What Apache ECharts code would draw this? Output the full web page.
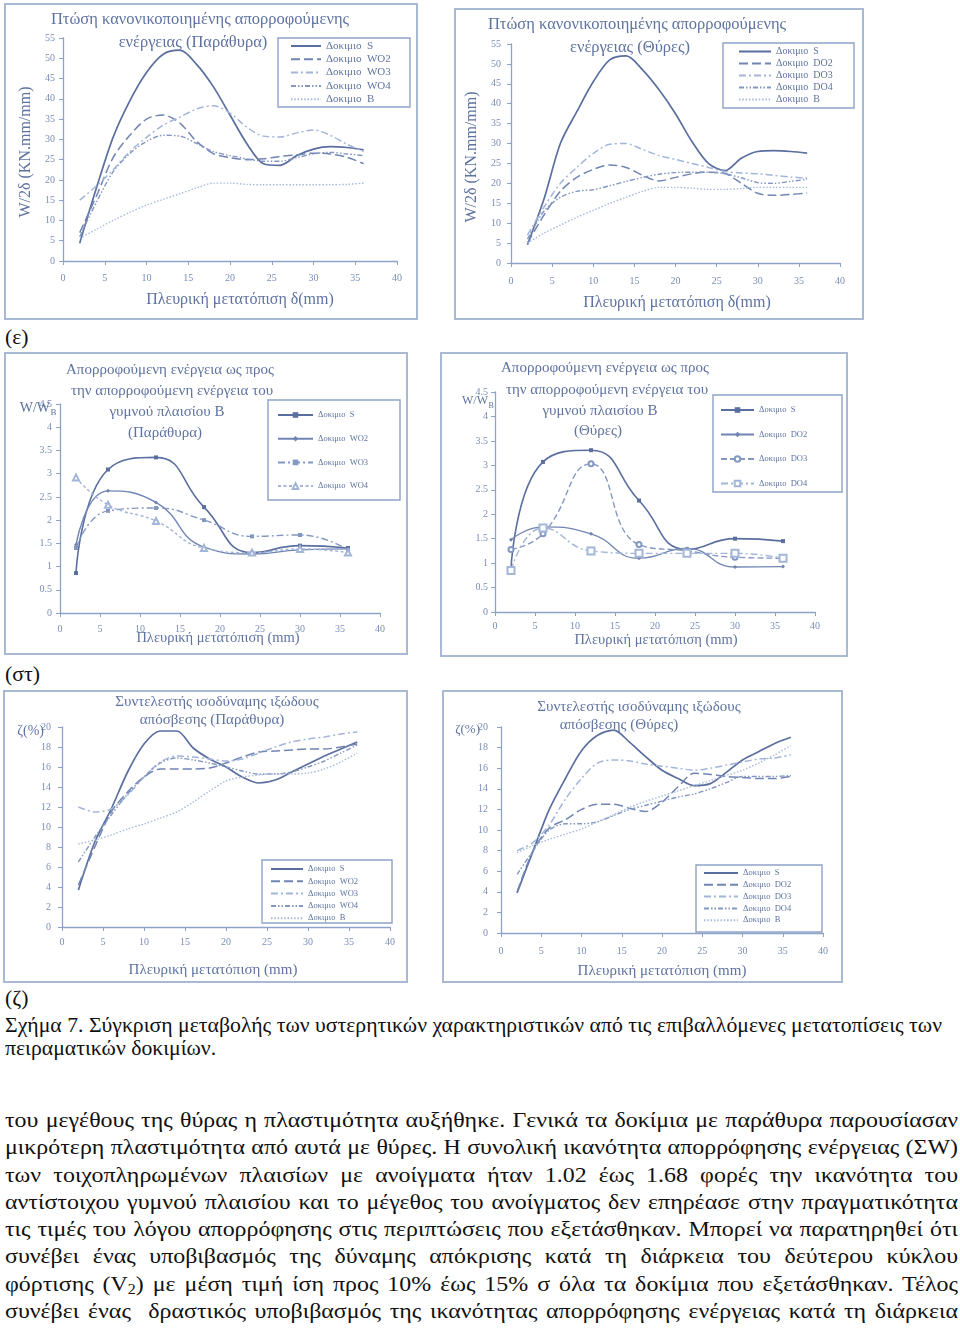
<!DOCTYPE html>
<html><head><meta charset="utf-8">
<script src="https://cdn.jsdelivr.net/npm/echarts@6.0.0/dist/echarts.min.js"></script>
<style>
html,body{margin:0;padding:0;background:#fff;}
body{width:960px;height:1335px;position:relative;overflow:hidden;font-family:'Liberation Serif','Times New Roman',serif;}
.panel{position:absolute;outline:2px solid #a9b8d3;outline-offset:-2px;}
.tl{position:absolute;left:5px;white-space:pre;font-size:21px;line-height:24px;color:#111;transform-origin:0 0;}
.tl sub{font-size:14px;line-height:0;vertical-align:-3px;}
</style></head><body>
<div id="c1" class="panel"></div>
<div id="c2" class="panel"></div>
<div id="c3" class="panel"></div>
<div id="c4" class="panel"></div>
<div id="c5" class="panel"></div>
<div id="c6" class="panel"></div>
<script>
// ---------- DATA ----------
const X_FULL = [2,4,6,8,10,12,14,16,18,20,22,24,26,28,30,32,34,36];
const X_PTS = [2,6,12,18,24,30,36];
const X_TICKS = [0,5,10,15,20,25,30,35,40];

// (ε) left: Παράθυρα, W/2δ
const c1_S   = [4.4,18,30.5,39.5,46.5,51,52,48.5,43,36,29,24,23.6,26,27.6,28.2,28,27.4];
const c1_WO2 = [7,16,25.5,31,35,36,34,29.5,26.5,25.5,25,25.2,25.8,26.2,26.6,26.4,25.6,24];
const c1_WO3 = [15,18.5,22.5,27,30.5,33.5,35.5,37.5,38.3,36.5,33,30.8,30.6,31.6,32.3,31,28.8,27];
const c1_WO4 = [6,14.5,22,26.5,29.5,31,30.8,29,27,26,25.2,24.6,24.6,25.5,26.4,26.8,26.4,26];
const c1_B   = [5.6,7.8,10,12,13.8,15.2,16.6,18,19.2,19.2,18.9,18.8,18.8,18.8,18.8,18.8,18.9,19.2];
// (ε) right: Θύρες
const c2_S   = [4.6,16,30,38,45.5,51,52,48.5,43.5,37.5,30.5,25,23.2,26.3,28,28.2,28,27.6];
const c2_DO2 = [5,12,18,21.5,23.5,24.6,24,22,20.6,21.5,22.4,22.8,22.5,20,17.5,17,17.2,17.6];
const c2_DO3 = [7,14,20,24,27.5,29.8,30,28.5,27,26,25,24,23,22.6,22.4,22,21.6,21.3];
const c2_DO4 = [6,13,16.5,18,18.4,19.4,20.5,21.5,22.3,22.7,22.8,22.8,22.4,21.4,20.2,20,20.5,21];
const c2_B   = [5,7.5,9.5,11.5,13.2,15,16.5,18,19,19,18.8,18.5,18.5,18.7,19,19,19,19];
// (στ) left: W/WB Παράθυρα
const c3_S   = [0.86,3.09,3.35,2.28,1.3,1.45,1.4];
const c3_WO2 = [1.47,2.63,2.38,1.42,1.27,1.36,1.38];
const c3_WO3 = [1.4,2.2,2.26,2.0,1.65,1.68,1.36];
const c3_WO4 = [2.92,2.33,1.98,1.4,1.3,1.38,1.3];
// (στ) right: W/WB Θύρες
const c4_S   = [0.88,3.07,3.31,2.28,1.28,1.5,1.45];
const c4_DO2 = [1.48,1.74,1.6,1.1,1.3,0.92,0.93];
const c4_DO3 = [1.28,1.6,3.03,1.38,1.25,1.12,1.1];
const c4_DO4 = [0.85,1.72,1.25,1.2,1.2,1.2,1.1];
// (ζ) left: ζ(%) Παράθυρα
const c5_S   = [3.7,8.5,11.8,15.5,18.3,19.6,19.6,17.9,16.8,16,15,14.4,14.7,15.5,16.3,17.1,17.8,18.5];
const c5_WO2 = [4.2,8,11.5,13.5,15,15.8,15.8,15.8,15.9,16.4,17,17.5,17.6,17.7,17.8,17.8,18,18.3];
const c5_WO3 = [12,11.5,11.8,13.2,15,16.5,17.1,17,16.8,16.6,16.8,17.4,18,18.5,18.8,19,19.3,19.5];
const c5_WO4 = [6.5,9,11.2,13.3,15,16.4,16.9,16.7,16.4,16,15.6,15.3,15.3,15.5,16,16.6,17.4,18.2];
const c5_B   = [8.3,8.7,9.2,9.8,10.3,10.9,11.5,12.5,13.6,14.6,15,15.2,15.3,15.3,15.4,15.8,16.5,17.4];
// (ζ) right: ζ(%) Θύρες
const c6_S   = [3.9,8,12,15,17.7,19.2,19.7,18.5,17.1,15.8,15,14.3,14.5,15.6,16.8,17.6,18.4,19];
const c6_DO2 = [4,8,10.2,11,12,12.5,12.5,12.1,11.8,12.7,14.2,15.5,15.4,15.2,15.1,15,15,15.2];
const c6_DO3 = [8,8.8,10.5,13,15,16.5,16.8,16.7,16.4,16.2,16,15.8,16,16.3,16.6,16.9,17,17.3];
const c6_DO4 = [5.7,8,10,10.6,10.6,10.8,11.4,12,12.4,12.8,13.2,13.5,14,14.6,15.2,15.2,15.2,15.3];
const c6_B   = [7.8,8.5,9.1,9.6,10.1,10.8,11.5,12.2,12.8,13.3,13.8,14.3,14.8,15.3,15.8,16.5,17.3,18.2];

const NAMES_W = ['Δοκιμιο  S','Δοκιμιο  WO2','Δοκιμιο  WO3','Δοκιμιο  WO4','Δοκιμιο  B'];
const NAMES_D = ['Δοκιμιο  S','Δοκιμιο  DO2','Δοκιμιο  DO3','Δοκιμιο  DO4','Δοκιμιο  B'];

// ---------- STYLE ----------
const SERIF = "'Liberation Serif', 'Times New Roman', serif";
const TXT = '#5f73a0', LBL = '#7a8db6', AXC = '#8ea2c8';
const COL = ['#5a6f9f','#7085b3','#a3b5d8','#8397c0','#a8b9da'];
const DASH = ['solid',[9,4],[7,3,2,3],[5,2,1.5,2,1.5,2],[1.5,1.8]];
const WID = [1.7,1.5,1.5,1.4,1.4];

function build(id, c) {
  const [px,py,pw,ph] = c.panel;
  const el = document.getElementById(id);
  el.style.left = px+'px'; el.style.top = py+'px';
  el.style.width = pw+'px'; el.style.height = ph+'px';
  const ch = echarts.init(el);
  const [gx1,gy1,gx2,gy2] = c.grid;
  const gr = [];
  c.title.forEach(([t,x,y]) => gr.push({type:'text', x:x-px, y:y-py, z:5,
    style:{text:t, font:c.titleFs+'px '+SERIF, fill:TXT, align:'center', verticalAlign:'middle'}}));
  gr.push({type:'text', x:c.xTitle[1]-px, y:c.xTitle[2]-py, z:5,
    style:{text:c.xTitle[0], font:c.xTitleFs+'px '+SERIF, fill:TXT, align:'center', verticalAlign:'middle'}});
  if (c.yTitle.rot) {
    gr.push({type:'text', x:c.yTitle.x-px, y:c.yTitle.y-py, rotation:Math.PI/2, z:5,
      style:{text:c.yTitle.t, font:c.yTitle.fs+'px '+SERIF, fill:TXT, align:'center', verticalAlign:'middle'}});
  } else {
    gr.push({type:'text', x:c.yTitle.x-px, y:c.yTitle.y-py, z:5,
      style:{text:c.yTitle.t, font:c.yTitle.fs+'px '+SERIF, fill:TXT, align:'right', verticalAlign:'middle'}});
    if (c.yTitle.sub) gr.push({type:'text', x:c.yTitle.x-px+0.5, y:c.yTitle.y-py+5, z:5,
      style:{text:c.yTitle.sub, font:Math.round(c.yTitle.fs*0.65)+'px '+SERIF, fill:TXT, align:'left', verticalAlign:'middle'}});
  }
  const lb = c.legendBox;
  gr.push({type:'rect', z:3, shape:{x:lb[0]-px, y:lb[1]-py, width:lb[2]-lb[0], height:lb[3]-lb[1]},
    style:{fill:'#fff', stroke:AXC, lineWidth:1.4}});
  const L = c.legend;
  const series = c.series.map((s) => ({
    name:s.name, type:'line', smooth:c.smooth,
    data:c.x.map((x,j)=>[x, s.data[j]]),
    symbol:s.symbol || 'none', symbolSize:s.size || 4, showSymbol:!!s.symbol,
    lineStyle:{color:s.color, width:s.width, type:s.dash},
    itemStyle:{color:s.color, borderWidth:1},
    z:2, silent:true
  }));
  const axisCommon = {
    axisLine:{show:true, lineStyle:{color:AXC, width:1.3}},
    axisTick:{show:true, length:4, lineStyle:{color:AXC, width:1}},
    splitLine:{show:false}
  };
  ch.setOption({
    animation:false,
    grid:{left:gx1-px, top:gy1-py, width:gx2-gx1, height:gy2-gy1},
    xAxis:Object.assign({type:'value', min:0, max:40, interval:5,
      axisLabel:{color:LBL, fontSize:10, fontFamily:SERIF, margin:c.xLm,
        formatter:(v)=>X_TICKS.includes(v)?String(v):''}}, axisCommon),
    yAxis:Object.assign({type:'value', min:0, max:c.ymax, interval:c.yint,
      axisLabel:{color:LBL, fontSize:10, fontFamily:SERIF, margin:c.yLm}}, axisCommon),
    legend:{orient:'vertical', left:L.x-px, top:L.y-py, padding:0, selectedMode:false,
      itemWidth:L.iw, itemHeight:L.ih, itemGap:L.gap,
      itemStyle: L.noSym ? {opacity:0} : {},
      textStyle:{fontFamily:SERIF, fontSize:L.fs, color:TXT, lineHeight:L.lh},
      data:c.series.map(s=>s.name), z:6},
    series:series,
    graphic:gr
  });
}

function lines5(names, arrs) {
  return names.map((n,i)=>({name:n, data:arrs[i], color:COL[i], width:WID[i], dash:DASH[i]}));
}

build('c1', {
  panel:[4,3,414,317], grid:[63,38,397,261], ymax:55, yint:5, x:X_FULL, smooth:0.3,
  xLm:12, yLm:8, titleFs:16.5,
  title:[['Πτώση κανονικοποιημένης απορροφούμενης',200,20],['ενέργειας (Παράθυρα)',193,43]],
  xTitle:['Πλευρική μετατόπιση δ(mm)',240,300], xTitleFs:16,
  yTitle:{t:'W/2δ (KN.mm/mm)', x:26, y:152, fs:16, rot:true},
  legendBox:[278,38,410,107],
  legend:{x:290, y:40, iw:30, ih:12, gap:1.3, fs:11, lh:12, noSym:true},
  series:lines5(NAMES_W,[c1_S,c1_WO2,c1_WO3,c1_WO4,c1_B])
});
build('c2', {
  panel:[454,8,410,312], grid:[511,44,840,263], ymax:55, yint:5, x:X_FULL, smooth:0.3,
  xLm:13, yLm:10, titleFs:16.5,
  title:[['Πτώση κανονικοποιημένης απορροφούμενης',637,25],['ενέργειας (Θύρες)',630,48]],
  xTitle:['Πλευρική μετατόπιση δ(mm)',677,303], xTitleFs:16,
  yTitle:{t:'W/2δ (KN.mm/mm)', x:472, y:157, fs:16, rot:true},
  legendBox:[723,43,854,108],
  legend:{x:738, y:46, iw:32, ih:11, gap:1, fs:10, lh:11, noSym:true},
  series:lines5(NAMES_D,[c2_S,c2_DO2,c2_DO3,c2_DO4,c2_B])
});
build('c3', {
  panel:[4,352,404,303], grid:[60,404,380,613], ymax:4.5, yint:0.5, x:X_PTS, smooth:0.5,
  xLm:11, yLm:8, titleFs:15,
  title:[['Απορροφούμενη ενέργεια ως προς',170,370],['την απορροφούμενη ενέργεια του',172,391],
         ['γυμνού πλαισίου Β',167,412],['(Παράθυρα)',165,433]],
  xTitle:['Πλευρική μετατόπιση (mm)',218,638], xTitleFs:14.5,
  yTitle:{t:'W/W', sub:'B', x:50, y:408, fs:14},
  legendBox:[268,400,400,500],
  legend:{x:277, y:410, iw:35, ih:7, gap:13.7, fs:8.5, lh:10},
  series:[
    {name:'Δοκιμιο  S', data:c3_S, color:COL[0], width:1.6, dash:'solid', symbol:'rect', size:4},
    {name:'Δοκιμιο  WO2', data:c3_WO2, color:COL[1], width:1.4, dash:'solid', symbol:'diamond', size:4},
    {name:'Δοκιμιο  WO3', data:c3_WO3, color:COL[3], width:1.4, dash:[7,3,2,3], symbol:'rect', size:4},
    {name:'Δοκιμιο  WO4', data:c3_WO4, color:COL[2], width:1.4, dash:[3,2.5], symbol:'emptyTriangle', size:6}
  ]
});
build('c4', {
  panel:[440,352,408,305], grid:[495,392,815,612], ymax:4.5, yint:0.5, x:X_PTS, smooth:0.5,
  xLm:9, yLm:7, titleFs:15,
  title:[['Απορροφούμενη ενέργεια ως προς',605,368],['την απορροφούμενη ενέργεια του',607,390],
         ['γυμνού πλαισίου Β',600,411],['(Θύρες)',598,431]],
  xTitle:['Πλευρική μετατόπιση (mm)',656,640], xTitleFs:14.5,
  yTitle:{t:'W/W', sub:'B', x:488, y:401, fs:12},
  legendBox:[713,395,842,492],
  legend:{x:720, y:405, iw:33, ih:7, gap:14.5, fs:8.5, lh:10},
  series:[
    {name:'Δοκιμιο  S', data:c4_S, color:COL[0], width:1.6, dash:'solid', symbol:'rect', size:4},
    {name:'Δοκιμιο  DO2', data:c4_DO2, color:COL[1], width:1.3, dash:'solid', symbol:'diamond', size:4},
    {name:'Δοκιμιο  DO3', data:c4_DO3, color:COL[3], width:1.4, dash:[6,3], symbol:'emptyCircle', size:5},
    {name:'Δοκιμιο  DO4', data:c4_DO4, color:COL[2], width:1.4, dash:[7,3,2,3], symbol:'emptyRect', size:7}
  ]
});
build('c5', {
  panel:[3,690,405,293], grid:[62,727,390,927], ymax:20, yint:2, x:X_FULL, smooth:0.3,
  xLm:10, yLm:11, titleFs:15,
  title:[['Συντελεστής ισοδύναμης ιξώδους',217,702],['απόσβεσης (Παράθυρα)',212,720]],
  xTitle:['Πλευρική μετατόπιση (mm)',213,970], xTitleFs:15,
  yTitle:{t:'ζ(%)', x:44, y:731, fs:14},
  legendBox:[262,860,392,923],
  legend:{x:270, y:864, iw:32, ih:10, gap:2.3, fs:8.5, lh:10, noSym:true},
  series:lines5(NAMES_W,[c5_S,c5_WO2,c5_WO3,c5_WO4,c5_B])
});
build('c6', {
  panel:[442,690,401,293], grid:[501,727,823,933], ymax:20, yint:2, x:X_FULL, smooth:0.3,
  xLm:13, yLm:13, titleFs:15,
  title:[['Συντελεστής ισοδύναμης ιξώδους',639,707],['απόσβεσης (Θύρες)',619,725]],
  xTitle:['Πλευρική μετατόπιση (mm)',662,971], xTitleFs:15,
  yTitle:{t:'ζ(%)', x:480, y:730, fs:13},
  legendBox:[696,865,822,932],
  legend:{x:703, y:868, iw:34, ih:10, gap:1.8, fs:8.5, lh:10, noSym:true},
  series:lines5(NAMES_D,[c6_S,c6_DO2,c6_DO3,c6_DO4,c6_B])
});

// ---------- BODY TEXT ----------
const TEXT_LINES = [
  {h:'(ε)', base:344},
  {h:'(στ)', base:681},
  {h:'(ζ)', base:1005},
  {h:'Σχήμα 7. Σύγκριση μεταβολής των υστερητικών χαρακτηριστικών από τις επιβαλλόμενες μετατοπίσεις των', base:1032.5, ref:937},
  {h:'πειραματικών δοκιμίων.', base:1055},
  {h:'του μεγέθους της θύρας η πλαστιμότητα αυξήθηκε. Γενικά τα δοκίμια με παράθυρα παρουσίασαν', base:1127, j:953},
  {h:'μικρότερη πλαστιμότητα από αυτά με θύρες. Η συνολική ικανότητα απορρόφησης ενέργειας (ΣW)', base:1154.3, j:953},
  {h:'των τοιχοπληρωμένων πλαισίων με ανοίγματα ήταν 1.02 έως 1.68 φορές την ικανότητα του', base:1181.6, j:953},
  {h:'αντίστοιχου γυμνού πλαισίου και το μέγεθος του ανοίγματος δεν επηρέασε στην πραγματικότητα', base:1208.9, j:953},
  {h:'τις τιμές του λόγου απορρόφησης στις περιπτώσεις που εξετάσθηκαν. Μπορεί να παρατηρηθεί ότι', base:1236.2, j:953},
  {h:'συνέβει ένας υποβιβασμός της δύναμης απόκρισης κατά τη διάρκεια του δεύτερου κύκλου', base:1263.5, j:953},
  {h:'φόρτισης (V<sub>2</sub>) με μέση τιμή ίση προς 10% έως 15% σ όλα τα δοκίμια που εξετάσθηκαν. Τέλος', base:1290.8, j:953},
  {h:'συνέβει ένας  δραστικός υποβιβασμός της ικανότητας απορρόφησης ενέργειας κατά τη διάρκεια', base:1318.1, j:953}
];
const BASE_OFF = 19.1;
const els = TEXT_LINES.map(o => {
  const d = document.createElement('div');
  d.className = 'tl';
  d.innerHTML = o.h;
  d.style.top = (o.base - BASE_OFF) + 'px';
  document.body.appendChild(d);
  return d;
});
const widths = els.map(d => d.getBoundingClientRect().width);
let scale = 1;
TEXT_LINES.forEach((o,i)=>{ if (o.ref) scale = o.ref / widths[i]; });
let pScale = Infinity;
TEXT_LINES.forEach((o,i)=>{ if (o.j) pScale = Math.min(pScale, (o.j - 4) / widths[i]); });
TEXT_LINES.forEach((o,i)=>{
  const d = els[i];
  if (o.j) {
    const n = (d.textContent.match(/ /g) || []).length;
    d.style.wordSpacing = ((o.j/pScale - widths[i]) / n) + 'px';
    d.style.transform = 'scaleX(' + pScale + ')';
  } else {
    d.style.transform = 'scaleX(' + scale + ')';
  }
});
</script>
</body></html>
